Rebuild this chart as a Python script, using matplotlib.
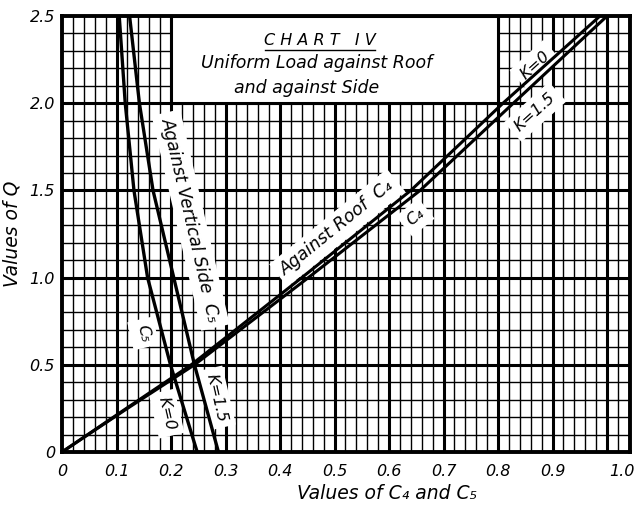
import numpy as np
import matplotlib
matplotlib.use('Agg')
import matplotlib.pyplot as plt
from matplotlib.ticker import MultipleLocator
from matplotlib.patches import Rectangle

# values (x = C, y = Q)
q_c4 = [0.0, 0.25, 0.5, 1.0, 1.5, 2.0, 2.5]
c4_k0 = [0.0, 0.118, 0.237, 0.440, 0.640, 0.809, 0.987]
c4_k15 = [0.0, 0.120, 0.243, 0.452, 0.657, 0.828, 1.0]

q_c5 = [2.5, 2.0, 1.5, 1.0, 0.5, 0.0]
c5_k0 = [0.105, 0.116, 0.132, 0.157, 0.199, 0.248]
c5_k15 = [0.124, 0.142, 0.167, 0.205, 0.243, 0.287]

xtick_pos = [0, 0.1, 0.2, 0.3, 0.4, 0.5, 0.6, 0.7, 0.8, 0.9, 1.028]
xtick_lab = ['0', '0.1', '0.2', '0.3', '0.4', '0.5', '0.6', '0.7', '0.8', '0.9', '1.0']
ytick_pos = [0, 0.5, 1.0, 1.5, 2.0, 2.5]
ytick_lab = ['0', '0.5', '1.0', '1.5', '2.0', '2.5']

plt.rcParams['font.family'] = ['DejaVu Sans']
plt.rcParams['font.style'] = 'italic'

fig = plt.figure(figsize=(6.41, 5.09), dpi=100)
ax = fig.add_axes([62/641, 57/509, 568/641, 436/509])
ax.set_xlim(0, 1.042)
ax.set_ylim(0, 2.5)

# grid
ax.xaxis.set_minor_locator(MultipleLocator(0.02))
ax.yaxis.set_minor_locator(MultipleLocator(0.1))
ax.grid(which='minor', color='k', lw=1.0)
for v in np.arange(0.1, 1.01, 0.1):
    ax.axvline(v, color='k', lw=2.2)
for v in [0.5, 1.0, 1.5, 2.0]:
    ax.axhline(v, color='k', lw=2.2)
ax.set_axisbelow(True)
for s in ax.spines.values():
    s.set_linewidth(2.8)
ax.tick_params(which='both', length=0, labelsize=11.5)
ax.tick_params(axis='x', pad=9)
ax.tick_params(axis='y', pad=5)
ax.set_xticks(xtick_pos)
ax.set_xticklabels(xtick_lab)
ax.set_yticks(ytick_pos)
ax.set_yticklabels(ytick_lab)

# title box
ax.add_patch(Rectangle((0.2, 2.0), 0.6, 0.5, fc='white', ec='k', lw=2.2, zorder=3))
ax.text(0.473, 2.362, 'C H A R T   I V', ha='center', va='center', fontsize=11.5, zorder=4)
ax.plot([0.372, 0.574], [2.305, 2.305], color='k', lw=1.0, zorder=4)
ax.text(0.468, 2.231, 'Uniform Load against Roof', ha='center', va='center', fontsize=12.5, zorder=4)
ax.text(0.448, 2.087, 'and against Side', ha='center', va='center', fontsize=12.5, zorder=4)

wb = dict(fc='white', ec='none', pad=4)

# curve labels
ax.text(0.236, 1.33, 'Against Vertical Side  C₅', rotation=-77, ha='center', va='center',
        fontsize=12.5, bbox=wb, zorder=4, rotation_mode='anchor')
ax.text(0.149, 0.68, 'C₅', rotation=-77, ha='center', va='center', fontsize=11.5, bbox=wb, zorder=4)
ax.text(0.192, 0.22, 'K=0', rotation=-77, ha='center', va='center', fontsize=11.5, bbox=wb, zorder=4)
ax.text(0.283, 0.31, 'K=1.5', rotation=-77, ha='center', va='center', fontsize=11.5, bbox=wb, zorder=4)
ax.text(0.505, 1.285, 'Against Roof  C₄', rotation=39, ha='center', va='center',
        fontsize=12.5, bbox=wb, zorder=4, rotation_mode='anchor')
ax.text(0.648, 1.345, 'C₄', rotation=39, ha='center', va='center', fontsize=11.5, bbox=wb, zorder=4)
ax.text(0.868, 2.22, 'K=0', rotation=42, ha='center', va='center', fontsize=11.5, bbox=wb, zorder=4)
ax.text(0.868, 1.95, 'K=1.5', rotation=42, ha='center', va='center', fontsize=11.5, bbox=wb, zorder=4)

# curves
ax.plot(c4_k0, q_c4, color='k', lw=2.2, zorder=5, solid_capstyle='butt')
ax.plot(c4_k15, q_c4, color='k', lw=2.2, zorder=5, solid_capstyle='butt')
ax.plot(c5_k0, q_c5, color='k', lw=2.4, zorder=5, solid_capstyle='butt')
ax.plot(c5_k15, q_c5, color='k', lw=2.4, zorder=5, solid_capstyle='butt')

ax.set_xlabel('Values of C₄ and C₅', fontsize=13.5)
ax.xaxis.set_label_coords(0.572, -0.073)
ax.set_ylabel('Values of Q', fontsize=13.5)
ax.yaxis.set_label_coords(-0.072, 0.5)

fig.savefig('out.png', dpi=100)
